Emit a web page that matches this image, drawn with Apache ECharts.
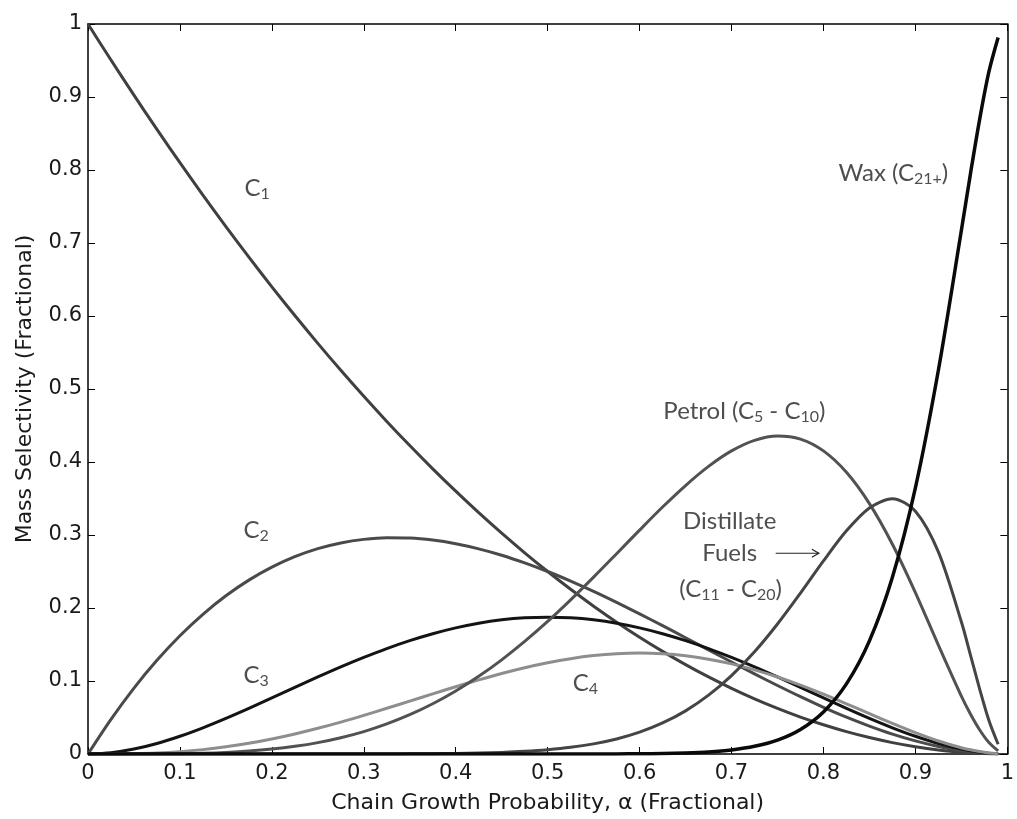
<!DOCTYPE html>
<html>
<head>
<meta charset="utf-8">
<title>Mass selectivity vs chain growth probability</title>
<script src="https://cdn.jsdelivr.net/npm/echarts@6/dist/echarts.min.js"></script>
<style>
  html, body { margin: 0; padding: 0; background: #ffffff; }
  #chart { width: 1017px; height: 819px; }
</style>
</head>
<body>
<div id="chart"></div>
<script>
// Chain growth probability (x) and mass selectivity of each product cut (y)
const alpha = [0, 0.025, 0.05, 0.075, 0.1, 0.125, 0.15, 0.175, 0.2, 0.225, 0.25, 0.275, 0.3, 0.325, 0.35, 0.375, 0.4, 0.425, 0.45, 0.475, 0.5, 0.525, 0.55, 0.575, 0.6, 0.625, 0.65, 0.675, 0.7, 0.725, 0.75, 0.775, 0.8, 0.825, 0.85, 0.875, 0.9, 0.925, 0.95, 0.96, 0.97, 0.98, 0.99];

const c1 = [1, 0.9506, 0.9025, 0.8556, 0.81, 0.7656, 0.7225, 0.6806, 0.64, 0.6006, 0.5625, 0.5256, 0.49, 0.4556, 0.4225, 0.3906, 0.36, 0.3306, 0.3025, 0.2756, 0.25, 0.2256, 0.2025, 0.1806, 0.16, 0.1406, 0.1225, 0.1056, 0.09, 0.0756, 0.0625, 0.0506, 0.04, 0.0306, 0.0225, 0.0156, 0.01, 0.0056, 0.0025, 0.0016, 0.0009, 0.0004, 0.0001];
const c2 = [0, 0.0475, 0.0903, 0.1283, 0.162, 0.1914, 0.2168, 0.2382, 0.256, 0.2703, 0.2813, 0.2891, 0.294, 0.2962, 0.2958, 0.293, 0.288, 0.281, 0.2723, 0.2618, 0.25, 0.2369, 0.2228, 0.2077, 0.192, 0.1758, 0.1593, 0.1426, 0.126, 0.1097, 0.0938, 0.0785, 0.064, 0.0505, 0.0383, 0.0273, 0.018, 0.0104, 0.0048, 0.0031, 0.0018, 0.0008, 0.0002];
const c3 = [0, 0.0018, 0.0068, 0.0144, 0.0243, 0.0359, 0.0488, 0.0625, 0.0768, 0.0912, 0.1055, 0.1193, 0.1323, 0.1444, 0.1553, 0.1648, 0.1728, 0.1792, 0.1838, 0.1866, 0.1875, 0.1866, 0.1838, 0.1792, 0.1728, 0.1648, 0.1553, 0.1444, 0.1323, 0.1193, 0.1055, 0.0912, 0.0768, 0.0625, 0.0488, 0.0359, 0.0243, 0.0144, 0.0068, 0.0044, 0.0025, 0.0012, 0.0003];
const c4 = [0, 0.0001, 0.0005, 0.0014, 0.0032, 0.006, 0.0098, 0.0146, 0.0205, 0.0274, 0.0352, 0.0437, 0.0529, 0.0626, 0.0725, 0.0824, 0.0922, 0.1015, 0.1103, 0.1182, 0.125, 0.1306, 0.1348, 0.1374, 0.1382, 0.1373, 0.1346, 0.1299, 0.1235, 0.1153, 0.1055, 0.0943, 0.0819, 0.0688, 0.0553, 0.0419, 0.0292, 0.0178, 0.0086, 0.0057, 0.0033, 0.0015, 0.0004];
const petrol = [0, 0, 0, 0.0002, 0.0005, 0.0011, 0.0022, 0.004, 0.0067, 0.0105, 0.0156, 0.0223, 0.0307, 0.0412, 0.0538, 0.0688, 0.0863, 0.1064, 0.129, 0.1542, 0.1816, 0.2112, 0.2423, 0.2744, 0.3067, 0.3383, 0.3678, 0.394, 0.4152, 0.4297, 0.4357, 0.4314, 0.4152, 0.3859, 0.343, 0.2874, 0.2212, 0.1492, 0.0793, 0.0545, 0.0329, 0.0157, 0.0042];
const distillate = [0, 0, 0, 0, 0, 0, 0, 0, 0, 0, 0, 0, 0, 0.0001, 0.0002, 0.0004, 0.0007, 0.0013, 0.0022, 0.0037, 0.0059, 0.0091, 0.0139, 0.0206, 0.0299, 0.0425, 0.0591, 0.0806, 0.1074, 0.14, 0.1781, 0.2204, 0.2645, 0.3057, 0.3371, 0.3497, 0.3326, 0.2768, 0.1811, 0.1352, 0.0886, 0.0458, 0.0133];
const wax = [0, 0, 0, 0, 0, 0, 0, 0, 0, 0, 0, 0, 0, 0, 0, 0, 0, 0, 0, 0, 0, 0, 0, 0.0001, 0.0003, 0.0007, 0.0015, 0.0029, 0.0056, 0.0105, 0.019, 0.0336, 0.0576, 0.096, 0.155, 0.2422, 0.3647, 0.5257, 0.717, 0.7956, 0.8701, 0.9347, 0.9815];

// Axis tick labels
const xTickLabels = ['0', '0.1', '0.2', '0.3', '0.4', '0.5', '0.6', '0.7', '0.8', '0.9', '1'];
const yTickLabels = ['0', '0.1', '0.2', '0.3', '0.4', '0.5', '0.6', '0.7', '0.8', '0.9', '1'];

// Curve annotations (rich text with subscripts)
const noteTexts = [
  '{n|C}{s|1}',
  '{n|C}{s|2}',
  '{n|C}{s|3}',
  '{n|C}{s|4}',
  '{n|Petrol (C}{s|5}{n| - C}{s|10}{n|)}',
  '{n|Distillate}',
  '{n|Fuels}',
  '{n|(C}{s|11}{n| - C}{s|20}{n|)}',
  '{n|Wax (C}{s|21+}{n|)}'
];
const noteAnchors = [
  [0.184, 0.775], [0.183, 0.307], [0.183, 0.108], [0.541, 0.097],
  [0.714, 0.470], [0.698, 0.319], [0.698, 0.275], [0.699, 0.226],
  [0.876, 0.796]
];
// Pointer next to "Fuels", in axis units
const fuelsArrow = { from: [0.748, 0.275], to: [0.795, 0.275] };

const zip = (xs, ys) => xs.map((x, i) => [x, ys[i]]);

const curveStyles = [
  { name: 'C1', data: c1, color: '#404040', width: 3 },
  { name: 'C2', data: c2, color: '#4a4a4a', width: 3 },
  { name: 'C3', data: c3, color: '#141414', width: 3 },
  { name: 'C4', data: c4, color: '#8e8e8e', width: 3 },
  { name: 'Petrol', data: petrol, color: '#525252', width: 3 },
  { name: 'Distillate', data: distillate, color: '#454545', width: 3 },
  { name: 'Wax', data: wax, color: '#0a0a0a', width: 3.5 }
];

const tickFont = { fontFamily: 'DejaVu Sans, sans-serif', fontSize: 21, color: '#1a1a1a' };
const titleFont = { fontFamily: 'DejaVu Sans, sans-serif', fontSize: 22, color: '#1a1a1a' };
const noteFont = 'Lato, Open Sans, sans-serif';
const noteRich = {
  n: { fontFamily: noteFont, fontSize: 24, color: '#222', lineHeight: 28 },
  s: { fontFamily: noteFont, fontSize: 16, color: '#222', lineHeight: 28, verticalAlign: 'bottom' }
};

const frameAxisCommon = {
  type: 'value', min: 0, max: 1, interval: 0.1,
  axisLine: { show: true, onZero: false, lineStyle: { color: '#000', width: 1.5 } },
  axisTick: { show: true, inside: true, length: 7, lineStyle: { color: '#000', width: 1 } },
  splitLine: { show: false }
};

const option = {
  backgroundColor: '#ffffff',
  animation: false,
  grid: { left: 88, right: 1, top: 24, bottom: 65, containLabel: false },
  xAxis: [
    Object.assign({}, frameAxisCommon, {
      position: 'bottom',
      name: 'Chain Growth Probability, α (Fractional)',
      nameLocation: 'middle', nameGap: 38,
      nameTextStyle: titleFont,
      axisLabel: Object.assign({ margin: 9, formatter: (v) => xTickLabels[Math.round(v * 10)] }, tickFont)
    }),
    Object.assign({}, frameAxisCommon, { position: 'top', axisLabel: { show: false } })
  ],
  yAxis: [
    Object.assign({}, frameAxisCommon, {
      position: 'left',
      name: 'Mass Selectivity (Fractional)',
      nameLocation: 'middle', nameGap: 52, nameRotate: 90,
      nameTextStyle: titleFont,
      axisLabel: Object.assign({ margin: 6, formatter: (v) => yTickLabels[Math.round(v * 10)] }, tickFont)
    }),
    Object.assign({}, frameAxisCommon, { position: 'right', axisLabel: { show: false } })
  ],
  series: curveStyles.map((c) => ({
    type: 'line',
    name: c.name,
    xAxisIndex: 0, yAxisIndex: 0,
    data: zip(alpha, c.data),
    smooth: 0.3,
    showSymbol: false,
    symbol: 'none',
    lineStyle: { color: c.color, width: c.width, join: 'round' },
    z: 3
  })).concat([{
    type: 'scatter',
    name: 'notes',
    xAxisIndex: 0, yAxisIndex: 0,
    symbolSize: 0,
    silent: true,
    data: noteAnchors.map((p, i) => ({
      value: p,
      label: { show: true, position: 'inside', formatter: noteTexts[i], rich: noteRich }
    })),
    z: 5
  }])
};

const chart = echarts.init(document.getElementById('chart'), null, { renderer: 'canvas' });
chart.setOption(option);

// Thin arrow after "Fuels", placed through the axis scales
const a0 = chart.convertToPixel({ gridIndex: 0 }, fuelsArrow.from);
const a1 = chart.convertToPixel({ gridIndex: 0 }, fuelsArrow.to);
chart.setOption({
  graphic: [
    { type: 'line', shape: { x1: a0[0], y1: a0[1], x2: a1[0], y2: a1[1] },
      style: { stroke: '#222', lineWidth: 1.2 }, z: 6 },
    { type: 'polyline', shape: { points: [[a1[0] - 7, a1[1] - 4], [a1[0], a1[1]], [a1[0] - 7, a1[1] + 4]] },
      style: { stroke: '#222', lineWidth: 1.2, fill: null }, z: 6 }
  ]
});
</script>
</body>
</html>
